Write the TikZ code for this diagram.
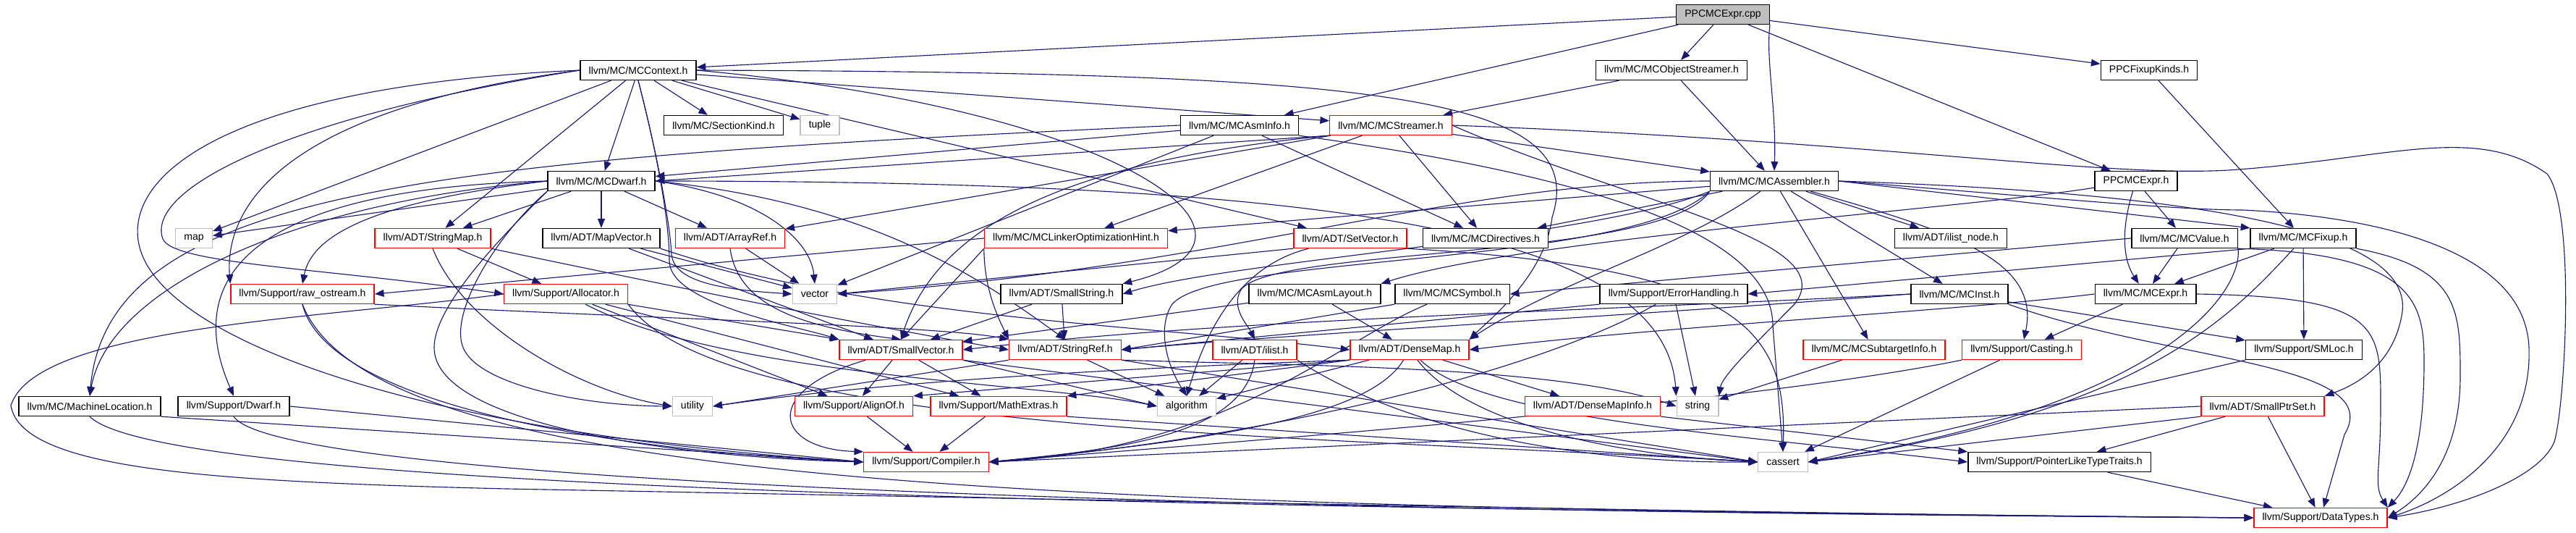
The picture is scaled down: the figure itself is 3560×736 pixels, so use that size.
\documentclass[tikz,border=0pt]{standalone}
\usepackage{fontspec}
\setsansfont{Liberation Sans}
\usepackage{tikz}
\usetikzlibrary{arrows.meta}
\usepackage{xcolor}
\definecolor{edgeblue}{HTML}{191970}
\definecolor{sysgray}{HTML}{BFBFBF}
\pgfdeclarelayer{bg}
\pgfsetlayers{bg,main}

\begin{document}
\begin{tikzpicture}[x=0.025cm, y=-0.025cm,
        every node/.style={font=\sffamily\fontsize{10}{12}\selectfont},
        hdr/.style={draw=black, fill=white, line width=1pt, minimum height=0.675cm, inner xsep=0.29cm, inner ysep=0pt},
        trunc/.style={hdr, draw=red},
        sys/.style={hdr, draw=sysgray},
        rootfile/.style={hdr, fill=sysgray},
        dep/.style={draw=edgeblue, line width=0.8pt, -{Triangle[length=9pt,width=7pt]}}]
        \useasboundingbox (0,0) rectangle (3560,736);

        % === ノード（行ごと）===
        \node[rootfile] (cpp) at (2381,20) {PPCMCExpr.cpp};

        \node[hdr] (ctx) at (882,97) {llvm/MC/MCContext.h};
        \node[hdr] (objs) at (2310,97) {llvm/MC/MCObjectStreamer.h};
        \node[hdr] (fixk) at (2970,97) {PPCFixupKinds.h};

        \node[hdr] (seck) at (1000,173) {llvm/MC/SectionKind.h};
        \node[sys] (tuple) at (1133,173) {tuple};
        \node[hdr] (asmi) at (1713,173) {llvm/MC/MCAsmInfo.h};
        \node[trunc] (strm) at (1922,173) {llvm/MC/MCStreamer.h};

        \node[hdr] (dwarf) at (831,250) {llvm/MC/MCDwarf.h};
        \node[hdr] (asm) at (2452,250) {llvm/MC/MCAssembler.h};
        \node[hdr] (pexpr) at (2952,250) {PPCMCExpr.h};

        \node[sys] (map) at (268,329) {map};
        \node[trunc] (smap) at (598,329) {llvm/ADT/StringMap.h};
        \node[hdr] (mvec) at (831,329) {llvm/ADT/MapVector.h};
        \node[trunc] (aref) at (1009,329) {llvm/ADT/ArrayRef.h};
        \node[trunc] (loh) at (1487,329) {llvm/MC/MCLinkerOptimizationHint.h};
        \node[trunc] (setv) at (1866,329) {llvm/ADT/SetVector.h};
        \node[hdr] (dir) at (2053,329) {llvm/MC/MCDirectives.h};
        \node[hdr] (inode) at (2696,329) {llvm/ADT/ilist\_node.h};
        \node[hdr] (val) at (3019,329) {llvm/MC/MCValue.h};
        \node[hdr] (fixup) at (3183,329) {llvm/MC/MCFixup.h};

        \node[trunc] (raw) at (418,406) {llvm/Support/raw\_ostream.h};
        \node[trunc] (alloc) at (782,406) {llvm/Support/Allocator.h};
        \node[sys] (vector) at (1126,406) {vector};
        \node[hdr] (sstr) at (1467,406) {llvm/ADT/SmallString.h};
        \node[hdr] (layout) at (1817,406) {llvm/MC/MCAsmLayout.h};
        \node[hdr] (sym) at (2007,406) {llvm/MC/MCSymbol.h};
        \node[hdr] (err) at (2313,406) {llvm/Support/ErrorHandling.h};
        \node[hdr] (inst) at (2708,406) {llvm/MC/MCInst.h};
        \node[hdr] (expr) at (2965,406) {llvm/MC/MCExpr.h};

        \node[trunc] (svec) at (1245,483) {llvm/ADT/SmallVector.h};
        \node[trunc] (sref) at (1472,483) {llvm/ADT/StringRef.h};
        \node[trunc] (ilist) at (1734,483) {llvm/ADT/ilist.h};
        \node[trunc] (dmap) at (1948,483) {llvm/ADT/DenseMap.h};
        \node[trunc] (sti) at (2590,483) {llvm/MC/MCSubtargetInfo.h};
        \node[trunc] (cast) at (2794,483) {llvm/Support/Casting.h};
        \node[hdr] (smloc) at (3184,483) {llvm/Support/SMLoc.h};

        \node[hdr] (mloc) at (124,561) {llvm/MC/MachineLocation.h};
        \node[hdr] (sdwarf) at (323,561) {llvm/Support/Dwarf.h};
        \node[sys] (util) at (957,561) {utility};
        \node[trunc] (align) at (1180,561) {llvm/Support/AlignOf.h};
        \node[trunc] (mext) at (1380,561) {llvm/Support/MathExtras.h};
        \node[sys] (algo) at (1640,561) {algorithm};
        \node[trunc] (dmi) at (2201,561) {llvm/ADT/DenseMapInfo.h};
        \node[sys] (string) at (2346,561) {string};
        \node[trunc] (sps) at (3127,561) {llvm/ADT/SmallPtrSet.h};

        \node[trunc] (comp) at (1280,638) {llvm/Support/Compiler.h};
        \node[sys] (cassert) at (2464,638) {cassert};
        \node[hdr] (pltt) at (2846,638) {llvm/Support/PointerLikeTypeTraits.h};

        \node[trunc] (dtypes) at (3207,715) {llvm/Support/DataTypes.h};

        \begin{pgfonlayer}{bg}
        % === 依存関係（直線）===
        \foreach \s/\t in {cpp/ctx, cpp/asmi, cpp/objs, cpp/pexpr, cpp/fixk,
                ctx/strm, ctx/seck, ctx/tuple, ctx/dwarf, ctx/smap, ctx/map, ctx/setv,
                objs/strm, objs/asm, fixk/fixup,
                asmi/dwarf, asmi/dir, asmi/vector} {
            \draw[dep] (\s) -- (\t);
        }
        \foreach \s/\t in {strm.south west/dwarf.east, strm/aref, strm/asm, strm/dir, strm/loh,
                dwarf/aref, dwarf/mvec, dwarf/smap, dwarf/map,
                asm/dir, asm/loh, asm/inode, asm.east/fixup.north west, asm/inst, asm/sti,
                pexpr/val} {
            \draw[dep] (\s) -- (\t);
        }
        \foreach \s/\t in {smap/alloc, mvec/svec, mvec/vector, aref/vector,
                loh.south west/svec.north, loh.west/raw.east, setv.south west/vector.east,
                val.west/sym.east, val/expr,
                fixup/expr, fixup.south west/err.east, fixup/smloc,
                alloc/svec, alloc/align, alloc/mext,
                sstr/svec, sstr/sref, layout/dmap, layout/svec,
                sym.south west/sref.east, err.south west/sref.east, err/string,
                inst/smloc, expr/cast} {
            \draw[dep] (\s) -- (\t);
        }
        \foreach \s/\t in {svec/align, svec/mext, svec.south east/algo.west, svec.south east/cassert.west,
                sref.south west/util.east, sref/algo, sref.south east/cassert.west,
                ilist/algo,
                dmap/dmi, dmap.south west/align.north east, dmap.south west/mext.north east, dmap/algo,
                sti/string, cast/cassert, smloc.south west/cassert.east,
                mloc.south east/comp.west, sdwarf.east/comp.west, align/comp, mext/comp,
                mext.south east/cassert.west,
                dmi.south east/pltt.north west, sps.west/comp.east, sps/pltt,
                sps.south west/cassert.east, sps/dtypes, pltt/dtypes} {
            \draw[dep] (\s) -- (\t);
        }

        % === 依存関係（曲線）===
        \draw[dep] (cpp.south east) .. controls (2440,80) and (2455,150) .. (asm.north);
        % MCContext.h
        \draw[dep] (ctx.west) .. controls (400,150) and (310,280) .. (raw.north west);
        \draw[dep] (ctx.west) .. controls (400,160) and (200,260) .. (225,330) .. controls (240,365) and (450,370) .. (alloc.west);
        \draw[dep] (ctx.west) .. controls (280,120) and (150,260) .. (200,360) .. controls (260,480) and (600,600) .. (comp.west);
        \draw[dep] (ctx.east) .. controls (1900,100) and (2200,130) .. (2145,300) .. controls (2135,380) and (2060,440) .. (dmap.north east);
        \draw[dep] (ctx.east) .. controls (1550,150) and (1800,330) .. (sstr.north east);
        \draw[dep] (ctx.south) .. controls (905,200) and (925,300) .. (928,350) .. controls (930,390) and (1000,400) .. (vector.west);
        \draw[dep] (ctx.south) .. controls (905,200) and (925,300) .. (925,360) .. controls (925,420) and (1100,450) .. (svec.north west);
        % MCAsmInfo.h, MCStreamer.h
        \draw[dep] (asmi.west) .. controls (600,220) and (150,260) .. (mloc.north);
        \draw[dep] (asmi.south east) .. controls (2100,230) and (2450,300) .. (2450,450) -- (cassert.north);
        \draw[dep] (strm.south west) .. controls (1500,220) and (1300,300) .. (svec.north);
        \draw[dep] (strm.east) .. controls (2250,280) and (2550,330) .. (2480,420) .. controls (2420,480) and (2380,520) .. (string.north east);
        \draw[dep] (strm.east) .. controls (2600,195) and (2900,245) .. (3080,235) .. controls (3300,220) and (3420,170) .. (3520,240) .. controls (3560,290) and (3545,560) .. (3530,610) .. controls (3510,660) and (3400,700) .. (dtypes.east);
        % MCDwarf.h
        \draw[dep] (dwarf.west) .. controls (400,280) and (150,400) .. (mloc.north);
        \draw[dep] (dwarf.west) .. controls (350,260) and (250,380) .. (sdwarf.north);
        \draw[dep] (dwarf.west) .. controls (500,280) and (430,330) .. (raw.north);
        \draw[dep] (dwarf.south west) .. controls (700,320) and (600,420) .. (600,480) .. controls (600,580) and (900,630) .. (comp.west);
        \draw[dep] (dwarf.south west) .. controls (690,320) and (620,430) .. (640,480) .. controls (660,530) and (800,560) .. (util.west);
        \draw[dep] (dwarf.east) .. controls (1800,250) and (2300,310) .. (string.north west);
        \draw[dep] (dwarf.east) .. controls (1050,270) and (1120,330) .. (vector.north);
        \draw[dep] (dwarf.east) .. controls (1200,280) and (1350,380) .. (sref.north);
        % MCAssembler.h
        \draw[dep] (asm) .. controls (2700,320) and (2820,360) .. (cast);
        \draw[dep] (asm) .. controls (2330,340) and (2150,390) .. (dmap.north east);
        \draw[dep] (asm.south west) .. controls (2300,360) and (1760,340) .. (1715,400) .. controls (1700,425) and (1725,450) .. (ilist.north);
        \draw[dep] (asm.south west) .. controls (2250,370) and (1680,350) .. (1620,420) .. controls (1600,450) and (1610,500) .. (algo.north);
        \draw[dep] (asm.south west) .. controls (2200,330) and (1700,360) .. (sstr.east);
        \draw[dep] (asm.west) .. controls (2000,250) and (1700,370) .. (vector.east);
        \draw[dep] (asm.east) .. controls (3150,270) and (3330,340) .. (3320,430) .. controls (3310,500) and (3260,530) .. (sps.north east);
        \draw[dep] (asm.east) .. controls (2800,270) and (3000,290) .. (3100,290) .. controls (3300,300) and (3490,350) .. (3495,480) .. controls (3500,620) and (3380,690) .. (dtypes.east);
        % PPCMCExpr.h, MCValue.h, MCFixup.h
        \draw[dep] (pexpr) .. controls (2700,290) and (2100,330) .. (layout.north east);
        \draw[dep] (pexpr) .. controls (2930,320) and (2935,360) .. (expr);
        \draw[dep] (val.south east) .. controls (3100,400) and (3000,560) .. (cassert.east);
        \draw[dep] (val.south east) .. controls (3340,350) and (3350,420) .. (3350,500) .. controls (3350,640) and (3320,680) .. (dtypes.north east);
        \draw[dep] (fixup) .. controls (3080,440) and (2960,570) .. (cassert.east);
        \draw[dep] (fixup.south east) .. controls (3400,370) and (3400,430) .. (3400,520) .. controls (3400,640) and (3340,690) .. (dtypes.east);
        % raw_ostream.h, Allocator.h
        \draw[dep] (raw.south) .. controls (450,550) and (800,620) .. (comp.west);
        \draw[dep] (raw.south) .. controls (520,680) and (1500,700) .. (dtypes.west);
        \draw[dep] (raw.south east) .. controls (900,440) and (1300,450) .. (sref.north west);
        \draw[dep] (alloc) .. controls (1000,520) and (1450,530) .. (algo.west);
        \draw[dep] (alloc.south east) .. controls (1000,600) and (1800,600) .. (cassert.west);
        \draw[dep] (alloc.west) .. controls (450,440) and (50,450) .. (15,560) .. controls (30,650) and (300,665) .. (700,675) .. controls (1500,690) and (2600,712) .. (dtypes.west);
        % SmallVector.h, StringRef.h, ilist.h, DenseMap.h
        \draw[dep] (svec) .. controls (1050,540) and (1070,620) .. (comp.north west);
        \draw[dep] (sref.south east) .. controls (1800,505) and (2150,505) .. (string.west);
        \draw[dep] (ilist.south) .. controls (1720,600) and (1550,620) .. (comp.east);
        \draw[dep] (ilist.south east) .. controls (1950,600) and (2200,640) .. (cassert.west);
        \draw[dep] (dmap.south west) .. controls (1500,510) and (1200,530) .. (util.east);
        \draw[dep] (dmap) .. controls (1890,580) and (1650,610) .. (comp.east);
        \draw[dep] (dmap) .. controls (2050,580) and (2400,600) .. (pltt.west);
        \draw[dep] (dmap) .. controls (2030,590) and (2250,630) .. (cassert.west);
        % その他
        \draw[dep] (smap.south east) .. controls (950,400) and (1200,450) .. (sref.west);
        \draw[dep] (smap.south) .. controls (640,450) and (800,540) .. (util.west);
        \draw[dep] (mvec.south east) .. controls (1200,440) and (1600,450) .. (dmap.west);
        \draw[dep] (aref.south) .. controls (1020,420) and (1100,450) .. (svec.north);
        \draw[dep] (loh.south west) .. controls (1360,400) and (1380,440) .. (sref.north west);
        \draw[dep] (setv) .. controls (1700,370) and (1660,480) .. (algo.north);
        \draw[dep] (setv.south east) .. controls (2400,370) and (2470,450) .. (cassert.north);
        \draw[dep] (inst.west) .. controls (2200,430) and (1700,440) .. (svec.east);
        \draw[dep] (inst.west) .. controls (2200,440) and (1800,460) .. (sref.east);
        \draw[dep] (inst.south east) .. controls (3000,500) and (3300,500) .. (3240,600) -- (dtypes);
        \draw[dep] (expr.west) .. controls (2700,430) and (2300,450) .. (dmap.east);
        \draw[dep] (expr.east) .. controls (3290,410) and (3290,450) .. (3290,560) .. controls (3290,650) and (3280,670) .. (dtypes.north east);
        \draw[dep] (sym) .. controls (1850,470) and (1700,620) .. (comp.east);
        \draw[dep] (err) .. controls (2150,500) and (1800,600) .. (comp.east);
        \draw[dep] (cast.south west) .. controls (2400,560) and (1700,610) .. (comp.east);
        \draw[dep] (mloc.south) .. controls (220,670) and (1400,700) .. (dtypes.west);
        \draw[dep] (sdwarf.south) .. controls (380,660) and (1500,705) .. (dtypes.west);
        \end{pgfonlayer}
\end{tikzpicture}
\end{document}
